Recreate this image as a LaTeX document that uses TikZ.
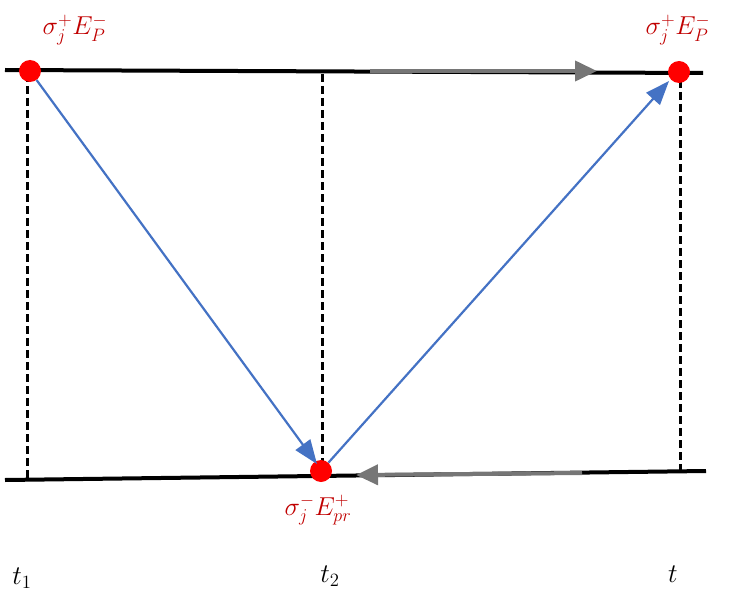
\documentclass[tikz,border=0pt]{standalone}
\usetikzlibrary{arrows.meta}
\definecolor{dred}{RGB}{192,0,0}
\definecolor{lblue}{RGB}{68,114,196}
\definecolor{agray}{RGB}{118,118,118}
\begin{document}
\begin{tikzpicture}[x=1pt,y=-1pt,
  axis/.style={line width=4pt},
  vdash/.style={line width=3pt,dash pattern=on 8pt off 4pt},
  dot/.style={circle,fill=red,inner sep=0pt,minimum size=22pt},
  blue arrow/.style={lblue,line width=2.2pt,-{Triangle[length=24pt,width=18pt]}},
  gray arrow/.style={agray,line width=4pt,-{Triangle[length=22pt,width=20pt]}},
  lab/.style={text=dred,font=\huge,scale=1.25,transform shape},
  tlab/.style={font=\huge,scale=1.3,transform shape}]
\useasboundingbox (0,0) rectangle (736,599);
\coordinate (tl) at (5,70); \coordinate (tr) at (703,73);
\coordinate (bl) at (5,480); \coordinate (br) at (706,471);
\draw[axis] (tl) -- (tr);
\draw[axis] (bl) -- (br);
\coordinate (v1a) at (27,74); \coordinate (v1b) at (27,478);
\coordinate (v2a) at (322,74); \coordinate (v2b) at (322,462);
\coordinate (v3a) at (680,80); \coordinate (v3b) at (680,471);
\draw[vdash] (v1a) -- (v1b);
\draw[vdash] (v2a) -- (v2b);
\draw[vdash] (v3a) -- (v3b);
\coordinate (g1a) at (370,71); \coordinate (g1b) at (597,71);
\coordinate (g2a) at (582,473); \coordinate (g2b) at (356,475);
\draw[gray arrow] (g1a) -- (g1b);
\draw[gray arrow] (g2a) -- (g2b);
\node[dot] (A) at (30,71) {};
\node[dot] (B) at (679,72) {};
\node[dot] (C) at (321,471) {};
\draw[blue arrow] (A) -- (317,464);
\draw[blue arrow] (C) -- (669,81);
\node[lab] (la) at (75,30) {$\sigma_j^+E_P^-$};
\node[lab] (lb) at (678,30) {$\sigma_j^+E_P^-$};
\node[lab] (lc) at (318,510) {$\sigma_j^-E_{pr}^+$};
\node[tlab] (t1) at (22,578) {$t_1$};
\node[tlab] (t2) at (330,576) {$t_2$};
\node[tlab] (t3) at (673,574) {$t$};
\end{tikzpicture}
\end{document}
